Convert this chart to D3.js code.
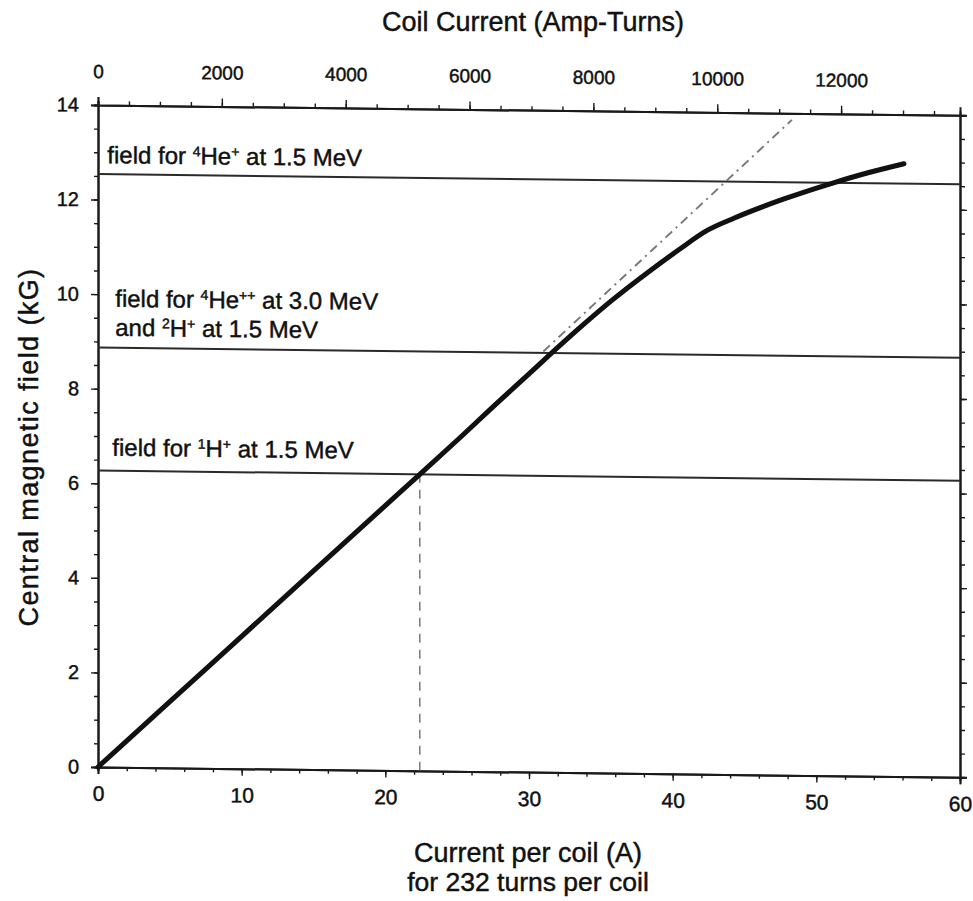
<!DOCTYPE html>
<html>
<head>
<meta charset="utf-8">
<script src="https://cdn.jsdelivr.net/npm/d3@7"></script>
<style>
  html, body { margin: 0; padding: 0; background: #fff; }
  svg { display: block; }
  text { font-family: "Liberation Sans", Arial, sans-serif; fill: #111; stroke: #111; stroke-width: 0.45px; }
  .axis path, .axis line { stroke: #1a1a1a; }
</style>
</head>
<body>
<svg id="chart" width="973" height="901"></svg>
<script>
// Measured magnet excitation curve: current per coil (A) vs central field (kG)
const currentA = [0, 5, 10, 15, 20, 22.4, 25, 28, 30, 31.3, 33.5, 35.7, 38.5, 40.5, 42.4, 44.3, 47.7, 51.2, 53.6, 56.1];
const fieldKG  = [0, 1.4, 2.8, 4.2, 5.6, 6.27, 7.0, 7.86, 8.42, 8.79, 9.4, 9.98, 10.65, 11.1, 11.5, 11.77, 12.18, 12.54, 12.76, 12.96];

// Linear (unsaturated) extrapolation of the curve
const linearCurrent = [31, 48.3];
const linearField   = [8.9, 13.86];

// Fields required for the listed ions
const refFields = [12.54, 8.87, 6.27];

// Current at which the 1H+ field is reached
const protonCurrent = 22.4;
const protonField = 6.27;

// Axis ticks
const turnsPerCoil = 232;
const bottomTicks = [0, 10, 20, 30, 40, 50, 60];
const leftTicks = [0, 2, 4, 6, 8, 10, 12, 14];
const topTicks = [0, 2000, 4000, 6000, 8000, 10000, 12000];

const svg = d3.select("#chart");
const plotLeft = 98, plotRight = 960, plotTop = 105, plotBottom = 767;
const W = plotRight - plotLeft, H = plotBottom - plotTop;

const x = d3.scaleLinear().domain([0, 60]).range([0, W]);
const xTop = d3.scaleLinear().domain([0, 60 * turnsPerCoil]).range([0, W]);
const y = d3.scaleLinear().domain([0, 14]).range([H, 0]);

// the plot sheet sits slightly slanted
const g = svg.append("g").attr("transform", `translate(${plotLeft},${plotTop}) skewY(0.68)`);

function styleAxis(sel, fs) {
  sel.classed("axis", true);
  sel.select(".domain").attr("stroke-width", 2);
  sel.selectAll(".tick line").attr("stroke-width", 1.4);
  sel.selectAll("text").style("font-size", fs + "px").attr("fill", "#111");
}

// minor ticks
g.append("g").attr("transform", `translate(0,${H})`)
  .call(d3.axisBottom(x).tickValues(d3.range(0, 60.01, 2)).tickSize(4).tickFormat(""))
  .call(s => styleAxis(s, 10));
g.append("g").call(d3.axisTop(xTop).tickValues(d3.range(0, 60 * turnsPerCoil, 500)).tickSize(4).tickFormat(""))
  .call(s => styleAxis(s, 10));
g.append("g").call(d3.axisLeft(y).tickValues(d3.range(0, 14.01, 0.5)).tickSize(4).tickFormat(""))
  .call(s => styleAxis(s, 10));
g.append("g").attr("transform", `translate(${W},0)`)
  .call(d3.axisRight(y).tickValues(d3.range(0, 14.01, 0.5)).tickSize(5).tickFormat(""))
  .call(s => styleAxis(s, 10));

// major ticks and labels
g.append("g").attr("transform", `translate(0,${H})`)
  .call(d3.axisBottom(x).tickValues(bottomTicks).tickSize(7).tickPadding(12).tickFormat(d3.format("d")))
  .call(s => styleAxis(s, 21));
g.append("g")
  .call(d3.axisTop(xTop).tickValues(topTicks).tickSize(8).tickPadding(19).tickFormat(d3.format("d")))
  .call(s => styleAxis(s, 19));
g.append("g")
  .call(d3.axisLeft(y).tickValues(leftTicks).tickSize(7).tickPadding(12).tickFormat(d3.format("d")))
  .call(s => styleAxis(s, 20));
g.append("g").attr("transform", `translate(${W},0)`)
  .call(d3.axisRight(y).tickValues(leftTicks).tickSize(7).tickFormat(""))
  .call(s => styleAxis(s, 10));

// reference field levels
g.selectAll("line.ref").data(refFields).join("line")
  .attr("class", "ref")
  .attr("x1", 0).attr("x2", W)
  .attr("y1", d => y(d)).attr("y2", d => y(d))
  .attr("stroke", "#2a2a2a").attr("stroke-width", 2);

// drop line for the 1H+ operating point
g.append("line")
  .attr("x1", x(protonCurrent)).attr("x2", x(protonCurrent))
  .attr("y1", y(0)).attr("y2", y(protonField))
  .attr("stroke", "#666").attr("stroke-width", 1.3)
  .attr("stroke-dasharray", "9,7");

// linear extrapolation
g.append("path")
  .datum(d3.zip(linearCurrent, linearField))
  .attr("d", d3.line().x(d => x(d[0])).y(d => y(d[1])))
  .attr("fill", "none").attr("stroke", "#777").attr("stroke-width", 1.9)
  .attr("stroke-dasharray", "9,5,2,5");

// excitation curve
g.append("path")
  .datum(d3.zip(currentA, fieldKG))
  .attr("d", d3.line().x(d => x(d[0])).y(d => y(d[1])).curve(d3.curveMonotoneX))
  .attr("fill", "none").attr("stroke", "#111").attr("stroke-width", 5)
  .attr("stroke-linecap", "round").attr("stroke-linejoin", "round");

// ion labels
function ionLabel(px, py, parts) {
  const t = g.append("text").attr("x", px).attr("y", py).style("font-size", "24px");
  parts.forEach(p => {
    const s = t.append("tspan").text(p[0]);
    if (p[1] === "sup") s.attr("baseline-shift", "super").style("font-size", "14px");
  });
}
ionLabel(x(0.65), y(12.54) - 11, [["field for "], ["4", "sup"], ["He"], ["+", "sup"], [" at 1.5 MeV"]]);
ionLabel(x(1.2), y(8.87) - 41, [["field for "], ["4", "sup"], ["He"], ["++", "sup"], [" at 3.0 MeV"]]);
ionLabel(x(1.2), y(8.87) - 12, [["and "], ["2", "sup"], ["H"], ["+", "sup"], [" at 1.5 MeV"]]);
ionLabel(x(1.0), y(6.27) - 15, [["field for "], ["1", "sup"], ["H"], ["+", "sup"], [" at 1.5 MeV"]]);

// titles
svg.append("text").attr("x", 533).attr("y", 31).attr("text-anchor", "middle")
  .style("font-size", "27px").text("Coil Current (Amp-Turns)");
svg.append("text").attr("x", 528).attr("y", 862).attr("text-anchor", "middle")
  .style("font-size", "27px").text("Current per coil (A)");
svg.append("text").attr("x", 528).attr("y", 891).attr("text-anchor", "middle")
  .style("font-size", "26.5px").text("for 232 turns per coil");
svg.append("text")
  .attr("transform", "translate(38,447) rotate(-90)")
  .attr("text-anchor", "middle")
  .style("font-size", "27px").style("letter-spacing", "1.4px")
  .text("Central magnetic field (kG)");
</script>
</body>
</html>
